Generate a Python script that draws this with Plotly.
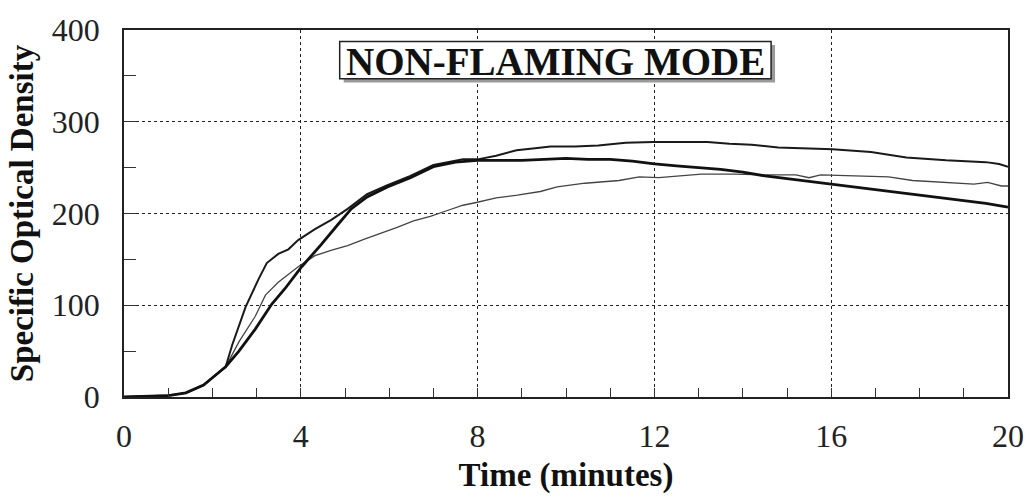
import plotly.graph_objects as go

# Series (time in minutes, specific optical density)
t_thick = [0, 0.5, 1.0, 1.4, 1.8, 2.0, 2.3, 2.6, 2.97, 3.34, 3.64, 4.02, 4.46, 4.84, 5.14, 5.5, 5.96,
           6.48, 7.0, 7.5, 8.0, 8.5, 9.0, 9.5, 10.0, 10.5, 11.0, 11.5, 12.0, 12.5, 13.0, 13.5, 14.0,
           14.5, 15.0, 15.5, 16.0, 16.5, 17.0, 17.5, 18.0, 18.5, 19.0, 19.5, 20.0]
v_thick = [0, 0.5, 1.5, 4.5, 13, 21, 33, 50, 74, 101, 118, 142, 166, 188, 205, 218, 229,
           239, 251, 256, 258, 258, 258, 259, 260, 259, 259, 257, 254, 252, 250, 248, 245,
           241, 238, 235, 232, 229, 226, 223, 220, 217, 214, 211, 207]

t_knee = [0, 0.5, 1.0, 1.4, 1.8, 2.0, 2.3, 2.45, 2.75, 3.05, 3.23, 3.49, 3.72, 3.94, 4.32, 4.69,
          5.06, 5.5, 5.96, 6.48, 7.0, 7.67, 8.0, 8.42, 8.88, 9.3, 9.65, 10.2, 10.73, 11.35, 11.97,
          12.6, 13.2, 13.7, 14.2, 14.8, 15.4, 16.03, 16.9, 17.7, 18.6, 19.5, 19.8, 20.0]
v_knee = [0, 0.5, 1.5, 4.5, 13, 21, 33, 57, 98, 129, 146, 156, 161, 171, 183, 193,
          205, 221, 231, 241, 253, 259, 259, 263, 269, 271, 273, 273, 274, 277, 278,
          278, 278, 276, 275, 272, 271, 270, 267, 261, 258, 256, 254, 251]

t_thin = [0, 0.5, 1.0, 1.4, 1.8, 2.0, 2.3, 2.6, 2.97, 3.2, 3.49, 3.94, 4.32, 4.7, 5.06, 5.44, 5.8,
          6.18, 6.55, 6.93, 7.3, 7.67, 7.97, 8.42, 8.9, 9.42, 9.8, 10.43, 11.2, 11.66, 12.1, 12.6,
          13.06, 13.8, 14.5, 15.2, 15.5, 15.76, 16.5, 17.3, 17.84, 18.5, 19.23, 19.54, 19.85, 20.0]
v_thin = [0, 0.5, 1.5, 4.5, 13, 21, 33, 60, 88, 111, 125, 142, 154, 160, 165, 172, 178,
          185, 192, 197, 203, 209, 212, 217, 220, 224, 229, 233, 236, 240, 239, 241,
          243, 243, 242, 242, 239, 242, 241, 240, 236, 234, 232, 234, 230, 230]

x_ticks = [0, 4, 8, 12, 16, 20]
y_ticks = [0, 100, 200, 300, 400]
title_text = "NON-FLAMING MODE"
x_title = "Time (minutes)"
y_title = "Specific Optical Density"

SERIF = "Liberation Serif, Times New Roman, serif"

fig = go.Figure()
fig.add_trace(go.Scatter(x=t_thin, y=v_thin, mode="lines",
                         line=dict(color="#444444", width=1.3), showlegend=False))
fig.add_trace(go.Scatter(x=t_knee, y=v_knee, mode="lines",
                         line=dict(color="#1a1a1a", width=2.0), showlegend=False))
fig.add_trace(go.Scatter(x=t_thick, y=v_thick, mode="lines",
                         line=dict(color="#111111", width=2.8), showlegend=False))

axis_common = dict(
    showline=True, linecolor="#222", linewidth=1.5, mirror=True,
    showgrid=True, gridcolor="#222", gridwidth=1.3, griddash="dot",
    zeroline=False, ticks="inside", tickcolor="#333", ticklen=9, tickwidth=1,
    tickfont=dict(family=SERIF, size=32, color="#222"),
    ticklabeloverflow="allow",
)

fig.update_xaxes(
    range=[0, 20], tickvals=x_ticks, ticktext=[str(v) for v in x_ticks],
    minor=dict(dtick=1, ticks="inside", ticklen=9, tickcolor="#333", showgrid=False),
    title=dict(text="<b>" + x_title + "</b>", font=dict(family=SERIF, size=33, color="#111"), standoff=10),
    ticklabelstandoff=10,
    **axis_common,
)
fig.update_yaxes(
    range=[0, 400.01], tickvals=y_ticks, ticktext=[str(v) for v in y_ticks],
    minor=dict(dtick=50, ticks="inside", ticklen=12, tickcolor="#333", showgrid=False),
    title=dict(text="<b>" + y_title + "</b>", font=dict(family=SERIF, size=33, color="#111"), standoff=8),
    ticklabelstandoff=16,
    **axis_common,
)

# title box: shadow, frame, then text
fig.add_shape(type="rect", xref="paper", yref="paper", x0=0.2485, x1=0.7365, y0=0.857, y1=0.959,
              line=dict(color="#9a9a9a", width=0), fillcolor="#9a9a9a", layer="above")
fig.add_shape(type="rect", xref="paper", yref="paper", x0=0.244, x1=0.732, y0=0.867, y1=0.969,
              line=dict(color="#222", width=1.5), fillcolor="white", layer="above")
fig.add_annotation(xref="paper", yref="paper", x=0.488, y=0.915, xanchor="center", yanchor="middle",
                   text="<b>" + title_text + "</b>", showarrow=False,
                   font=dict(family=SERIF, size=39, color="#111"))

fig.update_layout(
    width=1036, height=499,
    margin=dict(l=124, r=19, t=16, b=93),
    paper_bgcolor="white", plot_bgcolor="white",
)

fig.write_html("out.html", config={"displayModeBar": False},
               post_script="document.body.style.margin='0';")
